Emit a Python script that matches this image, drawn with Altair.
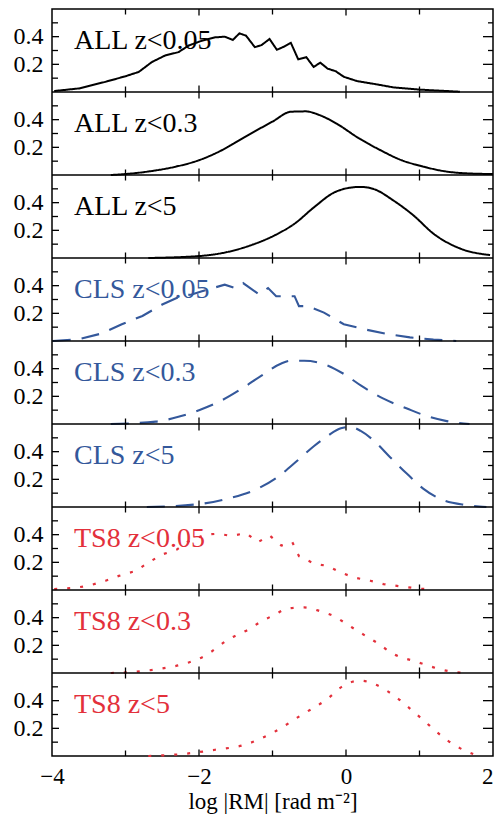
import altair as alt
import pandas as pd

labels = ["ALL z<0.05", "ALL z<0.3", "ALL z<5",
          "CLS z<0.05", "CLS z<0.3", "CLS z<5",
          "TS8 z<0.05", "TS8 z<0.3", "TS8 z<5"]

all005_x = [-3.97, -3.63, -3.27, -3.0, -2.82, -2.64, -2.46, -2.28, -2.14, -1.96, -1.78, -1.65, -1.54, -1.45, -1.36,
            -1.24, -1.15, -1.04, -0.94, -0.84, -0.75, -0.65, -0.54, -0.44, -0.35, -0.25, -0.14, -0.03, 0.15, 0.42,
            0.65, 1.01, 1.55]
all005_y = [0.007, 0.026, 0.074, 0.114, 0.145, 0.217, 0.264, 0.288, 0.336, 0.371, 0.395, 0.40, 0.376, 0.424, 0.407,
            0.324, 0.339, 0.383, 0.305, 0.329, 0.355, 0.236, 0.252, 0.181, 0.212, 0.169, 0.150, 0.110, 0.079, 0.055,
            0.033, 0.017, 0.002]

all03_x = [-3.20, -3.0, -2.64, -2.32, -2.0, -1.69, -1.38, -1.0, -0.75, -0.55, -0.36, -0.12, 0.15, 0.47, 0.78, 1.01,
           1.32, 1.64, 2.0]
all03_y = [0.0, 0.007, 0.029, 0.060, 0.107, 0.179, 0.274, 0.386, 0.457, 0.460, 0.433, 0.369, 0.274, 0.179, 0.102,
           0.067, 0.029, 0.012, 0.007]

all5_x = [-2.69, -2.0, -1.6, -1.29, -0.97, -0.70, -0.43, -0.16, 0.02, 0.20, 0.38, 0.65, 0.92, 1.19, 1.55, 1.96]
all5_y = [0.0, 0.014, 0.045, 0.093, 0.164, 0.248, 0.369, 0.474, 0.505, 0.514, 0.498, 0.414, 0.307, 0.176, 0.069,
          0.021]

cls005_x = [-3.99, -3.63, -3.32, -3.05, -2.77, -2.5, -2.23, -2.10, -1.96, -1.65, -1.51, -1.40, -1.18, -1.06, -0.95,
            -0.70, -0.64, -0.52, -0.30, -0.03, 0.24, 0.56, 0.87, 1.19, 1.50]
cls005_y = [0.0, 0.014, 0.055, 0.121, 0.181, 0.264, 0.329, 0.336, 0.36, 0.407, 0.383, 0.419, 0.336, 0.383, 0.324,
            0.324, 0.252, 0.252, 0.205, 0.121, 0.086, 0.05, 0.026, 0.01, 0.0]

cls03_x = [-3.2, -2.59, -2.28, -2.0, -1.69, -1.42, -1.15, -0.88, -0.75, -0.57, -0.30, -0.03, 0.20, 0.51, 0.83, 1.10,
           1.37, 1.68]
cls03_y = [0.0, 0.017, 0.052, 0.1, 0.171, 0.255, 0.35, 0.438, 0.457, 0.457, 0.433, 0.362, 0.279, 0.183, 0.112, 0.057,
           0.021, 0.0]

cls5_x = [-2.71, -2.0, -1.6, -1.2, -0.93, -0.66, -0.43, -0.25, -0.07, 0.06, 0.20, 0.38, 0.60, 0.83, 1.05, 1.32, 1.64,
          1.91]
cls5_y = [0.0, 0.021, 0.062, 0.133, 0.217, 0.336, 0.443, 0.514, 0.569, 0.579, 0.55, 0.479, 0.36, 0.24, 0.133, 0.05,
          0.014, 0.0]

ts8005_x = [-3.97, -3.72, -3.50, -3.27, -3.09, -2.86, -2.69, -2.5, -2.30, -2.14, -1.92, -1.74, -1.56, -1.36, -1.20,
            -1.04, -0.88, -0.73, -0.64, -0.43, -0.25, -0.07, 0.11, 0.33, 0.51, 0.74, 0.96, 1.19]
ts8005_y = [0.007, 0.014, 0.031, 0.067, 0.102, 0.138, 0.198, 0.257, 0.293, 0.352, 0.40, 0.407, 0.391, 0.412, 0.345,
            0.395, 0.321, 0.345, 0.245, 0.19, 0.174, 0.126, 0.09, 0.067, 0.043, 0.026, 0.012, 0.002]

ts803_x = [-3.2, -2.96, -2.55, -2.14, -1.92, -1.60, -1.33, -1.15, -0.97, -0.79, -0.57, -0.34, -0.16, 0.02, 0.20, 0.42,
           0.65, 0.96, 1.19, 1.41, 1.62]
ts803_y = [0.0, 0.005, 0.029, 0.076, 0.124, 0.243, 0.314, 0.374, 0.421, 0.467, 0.474, 0.445, 0.41, 0.35, 0.29, 0.219,
           0.136, 0.081, 0.041, 0.012, 0.0]

ts85_x = [-2.69, -2.23, -1.78, -1.38, -0.97, -0.61, -0.25, -0.03, 0.20, 0.38, 0.65, 0.87, 1.05, 1.37, 1.55, 1.73]
ts85_y = [0.0, 0.014, 0.045, 0.081, 0.176, 0.295, 0.414, 0.51, 0.545, 0.521, 0.438, 0.343, 0.26, 0.117, 0.057, 0.014]

series = [(all005_x, all005_y), (all03_x, all03_y), (all5_x, all5_y),
          (cls005_x, cls005_y), (cls03_x, cls03_y), (cls5_x, cls5_y),
          (ts8005_x, ts8005_y), (ts803_x, ts803_y), (ts85_x, ts85_y)]

groups = ["ALL", "CLS", "TS8"]
group_colors = ["#000000", "#34589b", "#e3303b"]
x_label_values = [-4, -2, 0, 2]
x_tick_values = [-3, -2, -1, 0, 1]
y_label_values = [0.2, 0.4]
y_tick_values = [0.1, 0.2, 0.3, 0.4, 0.5]
x_domain = [-4, 2]
panel_span = 0.6          # each panel shows 0 .. 0.6

FONT = "Liberation Serif"
NP = len(labels)
W, H = 441, 83 * NP

# ---- tables built from the arrays above ----
rows = []
for k, (lab, (xs, ys)) in enumerate(zip(labels, series)):
    for x, y in zip(xs, ys):
        rows.append({"x": x, "y": y, "panel": k, "group": lab[:3], "jagged": "0.05" in lab})
curves = pd.DataFrame(rows)
label_df = pd.DataFrame({"label": labels, "panel": list(range(NP)), "group": [l[:3] for l in labels]})

boundaries = [k * panel_span for k in range(NP + 1)]
sep_df = pd.DataFrame({"b": boundaries[1:-1]})
xt_df = pd.DataFrame([{"v": v, "b": b} for b in boundaries for v in x_tick_values])
yt_df = pd.DataFrame([{"v": (NP - 1 - k) * panel_span + t, "t": t} for k in range(NP) for t in y_tick_values])
ylab_pos = [(NP - 1 - k) * panel_span + v for k in range(NP) for v in y_label_values]

xscale = alt.Scale(domain=x_domain, nice=False, zero=False)
yscale = alt.Scale(domain=[0, NP * panel_span], nice=False, zero=False)
color = alt.Color("group:N", scale=alt.Scale(domain=groups, range=group_colors), legend=None)
dash = alt.StrokeDash("group:N", scale=alt.Scale(domain=groups, range=[[1, 0], [18, 11], [3, 10]]), legend=None)
swidth = alt.StrokeWidth("group:N", scale=alt.Scale(domain=groups, range=[2.0, 2.2, 2.6]), legend=None)

shift = f"({NP - 1} - datum.panel) * {panel_span}"

xaxis = alt.Axis(orient="bottom", values=x_label_values, ticks=False, tickSize=0, domain=False, grid=False,
                 labelFont=FONT, labelFontSize=23, labelPadding=9, labelColor="black",
                 labelAlign={"condition": {"test": f"datum.value == {x_domain[1]}", "value": "right"},
                             "value": "center"},
                 title="log |RM| [rad m\u207b\u00b2]", titleFont=FONT, titleFontSize=23,
                 titleFontWeight="normal", titleColor="black", titlePadding=2)
yaxis = alt.Axis(orient="left", values=ylab_pos, ticks=False, tickSize=0, domain=False, grid=False,
                 labelExpr="(round(datum.value * 10) % 6) == 2 ? '0.2' : '0.4'",
                 labelFont=FONT, labelFontSize=24, labelPadding=9, labelColor="black", title=None)

base = alt.Chart(curves).transform_calculate(yy=f"datum.y + {shift}")

smooth_lines = base.transform_filter("!datum.jagged").mark_line(interpolate="monotone", strokeCap="butt").encode(
    x=alt.X("x:Q", scale=xscale, axis=xaxis),
    y=alt.Y("yy:Q", scale=yscale, axis=yaxis),
    color=color, strokeDash=dash, strokeWidth=swidth, detail="panel:N",
)
jagged_lines = base.transform_filter("datum.jagged").mark_line(interpolate="linear", strokeCap="butt").encode(
    x=alt.X("x:Q", scale=xscale, axis=None),
    y=alt.Y("yy:Q", scale=yscale, axis=None),
    color=color, strokeDash=dash, strokeWidth=swidth, detail="panel:N",
)

separators = alt.Chart(sep_df).mark_rule(color="black", strokeWidth=1.5).encode(
    y=alt.Y("b:Q", scale=yscale, axis=None)
)

x_major = "(abs(datum.v) < 0.001 || abs(datum.v + 2) < 0.001)"
y_major = "(abs(datum.t - 0.2) < 0.001 || abs(datum.t - 0.4) < 0.001)"

xticks = alt.Chart(xt_df).transform_calculate(s=f"{x_major} ? 13 : 11").mark_tick(
    orient="vertical", thickness=1.3, color="black", clip=True, opacity=1
).encode(
    x=alt.X("v:Q", scale=xscale, axis=None),
    y=alt.Y("b:Q", scale=yscale, axis=None),
    size=alt.Size("s:Q", scale=None, legend=None),
)
yticks_left = alt.Chart(yt_df).transform_calculate(s=f"{y_major} ? 14 : 12").mark_tick(
    orient="horizontal", thickness=1.3, color="black", clip=True, opacity=1
).encode(
    y=alt.Y("v:Q", scale=yscale, axis=None),
    x=alt.XDatum(x_domain[0], scale=xscale, axis=None),
    size=alt.Size("s:Q", scale=None, legend=None),
)
yticks_right = alt.Chart(yt_df).transform_calculate(s=f"{y_major} ? 20 : 10").mark_tick(
    orient="horizontal", thickness=1.3, color="black", clip=True, opacity=1
).encode(
    y=alt.Y("v:Q", scale=yscale, axis=None),
    x=alt.XDatum(x_domain[1], scale=xscale, axis=None),
    size=alt.Size("s:Q", scale=None, legend=None),
)

texts = alt.Chart(label_df).transform_calculate(ty=f"{shift} + 0.31").mark_text(
    align="left", baseline="alphabetic", font=FONT, fontSize=28
).encode(
    x=alt.value(22),
    y=alt.Y("ty:Q", scale=yscale, axis=None),
    text="label:N",
    color=color,
)

chart = alt.layer(
    smooth_lines, jagged_lines, separators, xticks, yticks_left, yticks_right, texts
).resolve_axis(x="independent", y="independent").properties(
    width=W, height=H,
    autosize=alt.AutoSizeParams(type="none"),
    padding={"left": 44, "top": 1, "right": 1, "bottom": 62},
).configure_view(stroke="black", strokeWidth=1.5)

chart.save("out.html", embed_options={"renderer": "svg", "actions": False})
